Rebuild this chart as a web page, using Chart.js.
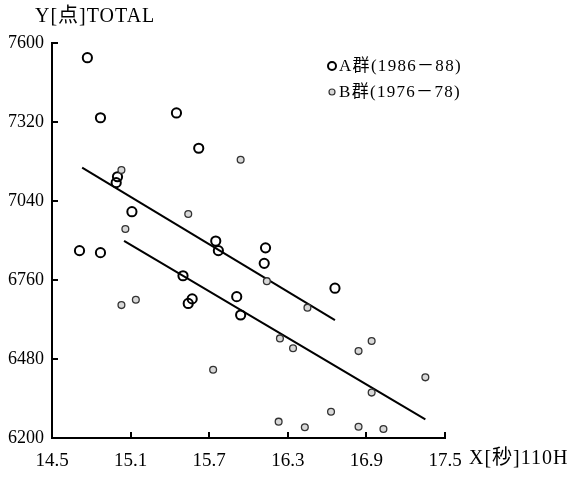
<!DOCTYPE html>
<html>
<head>
<meta charset="utf-8">
<script src="https://cdn.jsdelivr.net/npm/chart.js@4/dist/chart.umd.min.js"></script>
<style>
  html, body { margin: 0; padding: 0; background: #fff; }
  #wrap { width: 571px; height: 478px; }
</style>
</head>
<body>
<div id="wrap"><canvas id="c" width="571" height="478"></canvas></div>
<script>
// ---- data ----
const xTicks = [14.5, 15.1, 15.7, 16.3, 16.9, 17.5];
const yTicks = [6200, 6480, 6760, 7040, 7320, 7600];

const groupAName = "A群(1986－88)";
const groupBName = "B群(1976－78)";
const yTitle = "Y[点]TOTAL";
const xTitle = "X[秒]110H";

const aX = [14.77, 14.87, 15.45, 15.62, 14.71, 14.87, 14.99, 15.00, 15.11, 15.75, 15.77, 16.13, 16.12, 16.66, 15.50, 15.57, 15.54, 15.91, 15.94];
const aY = [7548, 7335, 7352, 7227, 6864, 6857, 7105, 7126, 7002, 6898, 6864, 6874, 6819, 6731, 6775, 6693, 6677, 6701, 6636];

const bX = [15.03, 15.54, 15.06, 15.94, 16.14, 16.45, 16.24, 16.34, 16.94, 16.84, 17.35, 16.94, 16.63, 16.23, 16.43, 16.84, 17.03, 15.03, 15.14, 15.73];
const bY = [7150, 6994, 6941, 7186, 6756, 6662, 6553, 6518, 6544, 6508, 6415, 6361, 6293, 6258, 6238, 6240, 6232, 6671, 6690, 6442];

const lineAX = [14.73, 16.66];
const lineAY = [7158, 6618];
const lineBX = [15.05, 17.35];
const lineBY = [6899, 6266];

// ---- helpers ----
const pts = (xs, ys) => xs.map((x, i) => ({ x: x, y: ys[i] }));
const SERIF = "'Liberation Serif', 'Noto Sans CJK JP', serif";

const decor = {
  id: 'decor',
  afterDraw(chart) {
    const ctx = chart.ctx;
    const ca = chart.chartArea;
    const xs = chart.scales.x, ys = chart.scales.y;
    ctx.save();
    ctx.strokeStyle = '#000';
    ctx.lineWidth = 2;
    // inward tick marks
    yTicks.forEach(v => {
      const p = Math.round(ys.getPixelForValue(v));
      ctx.beginPath(); ctx.moveTo(ca.left, p); ctx.lineTo(ca.left + 6, p); ctx.stroke();
    });
    xTicks.forEach(v => {
      const p = Math.round(xs.getPixelForValue(v));
      ctx.beginPath(); ctx.moveTo(p, ca.bottom); ctx.lineTo(p, ca.bottom - 6); ctx.stroke();
    });
    // titles
    ctx.fillStyle = '#000';
    ctx.textBaseline = 'middle';
    ctx.textAlign = 'left';
    ctx.font = "20px " + SERIF;
    try { ctx.letterSpacing = '1px'; } catch (e) {}
    ctx.fillText(yTitle, 35, 17);
    ctx.fillText(xTitle, 469, 459);
    // legend
    ctx.font = "17px " + SERIF;
    try { ctx.letterSpacing = '1.3px'; } catch (e) {}
    ctx.beginPath(); ctx.arc(332, 66, 4, 0, Math.PI * 2);
    ctx.fillStyle = '#fff'; ctx.fill(); ctx.lineWidth = 2; ctx.strokeStyle = '#000'; ctx.stroke();
    ctx.beginPath(); ctx.arc(332, 92, 3, 0, Math.PI * 2);
    ctx.fillStyle = '#d8d8d8'; ctx.fill(); ctx.lineWidth = 1.2; ctx.strokeStyle = '#333'; ctx.stroke();
    ctx.fillStyle = '#000';
    ctx.fillText(groupAName, 339, 67);
    ctx.fillText(groupBName, 339, 93);
    ctx.restore();
  }
};

new Chart(document.getElementById('c'), {
  type: 'scatter',
  data: {
    datasets: [
      {
        label: groupBName,
        data: pts(bX, bY),
        pointRadius: 3.4,
        pointBackgroundColor: '#d8d8d8',
        pointBorderColor: '#333',
        pointBorderWidth: 1.3,
        showLine: false
      },
      {
        label: groupAName,
        data: pts(aX, aY),
        pointRadius: 4.6,
        pointBackgroundColor: 'rgba(255,255,255,0)',
        pointBorderColor: '#000',
        pointBorderWidth: 2,
        showLine: false
      },
      {
        type: 'line',
        label: 'A回帰',
        data: pts(lineAX, lineAY),
        borderColor: '#000',
        borderWidth: 2,
        pointRadius: 0,
        fill: false
      },
      {
        type: 'line',
        label: 'B回帰',
        data: pts(lineBX, lineBY),
        borderColor: '#000',
        borderWidth: 2,
        pointRadius: 0,
        fill: false
      }
    ]
  },
  options: {
    responsive: false,
    devicePixelRatio: 1,
    animation: false,
    layout: { padding: { top: 43, right: 126, bottom: 0, left: 0 } },
    plugins: { legend: { display: false }, tooltip: { enabled: false } },
    scales: {
      x: {
        type: 'linear',
        min: 14.5, max: 17.5,
        afterBuildTicks: s => { s.ticks = xTicks.map(v => ({ value: v })); },
        afterFit: s => { s.height = 40; },
        grid: { display: false, drawTicks: false },
        border: { display: true, color: '#000', width: 2 },
        ticks: {
          autoSkip: false, maxRotation: 0, padding: 12, color: '#000',
          font: { family: SERIF, size: 19 },
          callback: v => Number(v).toFixed(1)
        }
      },
      y: {
        type: 'linear',
        min: 6200, max: 7600,
        afterBuildTicks: s => { s.ticks = yTicks.map(v => ({ value: v })); },
        afterFit: s => { s.width = 52; },
        grid: { display: false, drawTicks: false },
        border: { display: true, color: '#000', width: 2 },
        ticks: {
          autoSkip: false, padding: 8, color: '#000',
          font: { family: SERIF, size: 18 },
          callback: v => String(v)
        }
      }
    }
  },
  plugins: [decor]
});
</script>
</body>
</html>
